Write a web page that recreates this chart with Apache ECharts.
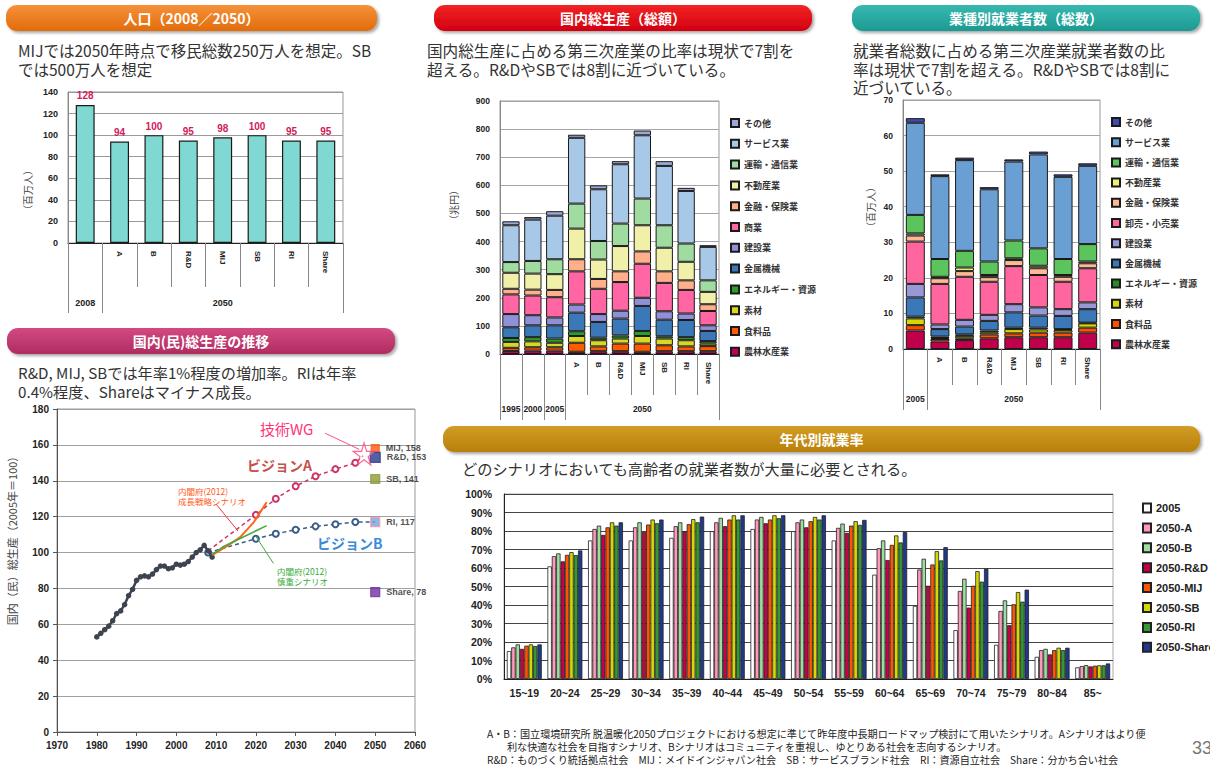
<!DOCTYPE html>
<html><head><meta charset="utf-8">
<script src="https://cdn.jsdelivr.net/npm/echarts@6/dist/echarts.min.js"></script>
<style>html,body{margin:0;padding:0;background:#fff}#c{width:1210px;height:771px}</style>
</head><body><div id="c"></div>
<script>
// ---------- DATA ----------
// 人口
const popCategories = ['', 'A', 'B', 'R&D', 'MIJ', 'SB', 'RI', 'Share'];
const popGroupLabels = ['2008', '', '', '', '2050', '', '', ''];
const popValues = [128, 94, 100, 95, 98, 100, 95, 95];

// 国内総生産（総額） 兆円
const gdpCategories = ['', '', '', 'A', 'B', 'R&D', 'MIJ', 'SB', 'RI', 'Share'];
const gdpGroupLabels = ['1995', '2000', '2005', '', '', '', '2050', '', '', ''];
const gdpSectorNames = ['農林水産業', '食料品', '素材', 'エネルギー・資源', '金属機械', '建設業', '商業', '金融・保険業', '不動産業', '運輸・通信業', 'サービス業', 'その他'];
const gdpAgriculture  = [11, 12, 12, 8, 10, 10, 8, 10, 10, 10];
const gdpFood         = [11, 12, 12, 32, 17, 27, 29, 21, 17, 18];
const gdpMaterials    = [21, 21, 16, 24, 22, 18, 27, 24, 22, 9];
const gdpEnergy       = [14, 15, 15, 17, 9, 11, 18, 8, 11, 9];
const gdpMachinery    = [38, 42, 47, 66, 56, 60, 89, 59, 61, 36];
const gdpConstruction = [47, 36, 28, 29, 28, 28, 29, 30, 23, 20];
const gdpCommerce     = [70, 70, 72, 118, 90, 102, 121, 101, 84, 51];
const gdpFinance      = [20, 21, 26, 43, 35, 38, 44, 41, 34, 24];
const gdpRealEstate   = [57, 57, 56, 109, 69, 90, 93, 84, 66, 44];
const gdpTransport    = [38, 45, 53, 89, 66, 80, 95, 80, 65, 41];
const gdpServices     = [131, 147, 155, 234, 184, 211, 225, 211, 187, 119];
const gdpOther        = [14, 9, 16, 11, 14, 11, 17, 17, 11, 6];

// 業種別就業者数（総数） 百万人
const empCategories = ['', 'A', 'B', 'R&D', 'MIJ', 'SB', 'RI', 'Share'];
const empGroupLabels = ['2005', '', '', '', '2050', '', '', ''];
const empSectorNames = ['農林水産業', '食料品', '素材', 'エネルギー・資源', '金属機械', '建設業', '卸売・小売業', '金融・保険業', '不動産業', '運輸・通信業', 'サービス業', 'その他'];
const empAgriculture  = [5.2, 2.1, 2.5, 3.0, 3.3, 3.3, 3.3, 4.6];
const empFood         = [1.5, 0.7, 0.5, 1.1, 1.1, 1.3, 1.3, 1.4];
const empMaterials    = [1.9, 0.3, 0.7, 0.6, 1.2, 0.9, 0.7, 1.2];
const empEnergy       = [0.5, 0.4, 0.4, 0.5, 0.4, 0.5, 0.3, 0.2];
const empMachinery    = [5.4, 2.1, 2.2, 2.7, 4.3, 3.4, 3.7, 3.8];
const empConstruction = [3.8, 1.3, 1.9, 1.7, 2.3, 2.3, 1.9, 1.9];
const empTrade        = [11.9, 11.4, 12.1, 9.3, 10.7, 9.1, 7.7, 9.6];
const empFinance      = [1.7, 1.6, 1.6, 1.3, 1.7, 1.9, 1.4, 1.4];
const empRealEstate   = [0.6, 0.4, 1.0, 0.6, 0.5, 0.7, 0.5, 0.5];
const empTransport    = [5.2, 5.0, 4.7, 3.8, 5.0, 4.9, 4.5, 4.9];
const empServices     = [25.9, 23.3, 25.5, 20.3, 22.2, 26.4, 23.1, 22.0];
const empOther        = [1.3, 0.5, 0.7, 0.6, 0.6, 0.8, 0.7, 0.7];

// 国内(民)総生産の推移（2005年＝100）
const histYears  = [1980,1981,1982,1983,1984,1985,1986,1987,1988,1989,1990,1991,1992,1993,1994,1995,1996,1997,1998,1999,2000,2001,2002,2003,2004,2005,2006,2007,2008,2009];
const histValues = [53,55,57,59,62,66,67.5,71,76,79.5,84.5,86.5,87,86.5,88,90.5,92.5,92.5,91,91.5,93.5,93,93.5,95,97.5,100,101.5,104,101,97.5];
const visionAYears  = [2008, 2020, 2025, 2030, 2035, 2040, 2045, 2047];
const visionAValues = [101, 121, 130, 137, 142.5, 146.5, 150, 154];
const visionBYears  = [2008, 2020, 2025, 2030, 2035, 2040, 2045, 2050];
const visionBValues = [100, 107.7, 110.5, 112.7, 114.6, 115.8, 117, 117];
const cabinetGrowthYears  = [2009, 2013, 2016, 2019.5, 2022.7];
const cabinetGrowthValues = [98.5, 104, 108.5, 117, 128];
const cabinetCautiousYears  = [2009, 2012, 2022.7];
const cabinetCautiousValues = [99, 103.5, 115];
const scenario2050Names  = ['MIJ', 'R&D', 'SB', 'RI', 'Share'];
const scenario2050Values = [158, 153, 141, 117, 78];
const techWGPoint = [2047.2, 155];

// 年代別就業率 (%)
const ageGroups = ['15~19','20~24','25~29','30~34','35~39','40~44','45~49','50~54','55~59','60~64','65~69','70~74','75~79','80~84','85~'];
const ageSeriesNames = ['2005', '2050-A', '2050-B', '2050-R&D', '2050-MIJ', '2050-SB', '2050-RI', '2050-Share'];
const age2005      = [15.1,60.9,74.9,74.9,76.3,79.9,81.1,79.9,74.9,56.4,39.5,26.4,18.5,12,6.3];
const age2050A     = [17.1,66.4,81.1,82,82.6,84.7,86.2,84.7,81.7,70.7,59.2,47.6,36.8,15.6,7];
const age2050B     = [18.7,67.9,82.9,84.7,84.7,87.1,87.6,86.2,84,74.9,65,54.2,42.5,16.3,7.5];
const age2050RD    = [16.3,63.6,77.9,79.4,79.8,82.6,84.2,82,79,64.3,50.4,38.6,29.1,13.3,6.8];
const age2050MIJ   = [18,67.1,82,83.5,83.7,86.2,86.2,85.3,82.9,72.5,61.9,50.4,40.4,15.6,7.2];
const age2050SB    = [18.7,68.6,84.7,86.2,86.4,88.5,88.5,87.6,85.3,77.6,69.1,58.3,47,16.9,7.4];
const age2050RI    = [17.8,67,82.9,84.2,84.7,86.2,86.9,86.2,83.3,73.8,64.1,52.6,41.8,15.6,7.4];
const age2050Share = [18.7,69.5,84.7,86.2,87.8,88.5,88.5,88.5,86,79.4,71.3,59.6,48.3,16.9,8.4];

// ---------- STYLE ----------
const FONT = "'Liberation Sans', Arial, 'Noto Sans CJK JP', sans-serif";
const JP = "'Noto Sans CJK JP', sans-serif";
const gdpColors = ['#c0005a','#ff5a00','#d8d820','#2c9c2c','#3a78b8','#9090d8','#ff66a3','#ffb08a','#f0f0a8','#a0dca0','#a8c8e8','#9ca8d8'];
const empColors = ['#c0004a','#ff5000','#d8d800','#2a8a2a','#3a78b8','#9898d8','#ff66a0','#ffb894','#f0f070','#5cc45c','#6a9fd4','#3c4cb0'];
const ageColors = ['#ffffff','#ff99bb','#a0dca0','#c8004a','#ff5500','#d8d800','#339933','#1f3a8a'];
const scenarioColors = ['#ff5a10','#2b3990','#8c9a3a','#6fa8dc','#7030a0'];
const scenarioBorders = ['#ff5a10','#2b3990','#8c9a3a','#ff8fb0','#7030a0'];
const scenarioSizes = [8, 10, 9, 9, 9];

const chart = echarts.init(document.getElementById('c'), null, {renderer: 'svg'});

const gdpData = [gdpAgriculture, gdpFood, gdpMaterials, gdpEnergy, gdpMachinery, gdpConstruction, gdpCommerce, gdpFinance, gdpRealEstate, gdpTransport, gdpServices, gdpOther];
const empData = [empAgriculture, empFood, empMaterials, empEnergy, empMachinery, empConstruction, empTrade, empFinance, empRealEstate, empTransport, empServices, empOther];
const ageData = [age2005, age2050A, age2050B, age2050RD, age2050MIJ, age2050SB, age2050RI, age2050Share];

const zip = (xs, ys) => xs.map((x, i) => [x, ys[i]]);

function header(x, y, w, h, c1, c2, text) {
  return [
    {type: 'rect', z: 100, shape: {x, y, width: w, height: h, r: 11},
     style: {fill: new echarts.graphic.LinearGradient(0, 0, 0, 1, [{offset: 0, color: c1}, {offset: 1, color: c2}]),
             shadowBlur: 3, shadowOffsetX: 2, shadowOffsetY: 2, shadowColor: 'rgba(0,0,0,0.35)'}},
    {type: 'text', z: 101, x: x + w / 2, y: y + h / 2,
     style: {text, fill: '#fff', fontSize: 14, fontWeight: 'bold', fontFamily: JP,
             textAlign: 'center', textVerticalAlign: 'middle', align: 'center', verticalAlign: 'middle'}}
  ];
}
function txt(x, y, text, st, extra) {
  return Object.assign({type: 'text', z: 101, x, y,
    style: Object.assign({text, fill: '#333', fontSize: 15, fontFamily: JP, lineHeight: 16,
      textAlign: 'left', textVerticalAlign: 'middle', align: 'left', verticalAlign: 'middle'}, st || {})}, extra || {});
}
// description lines: x, first line centre y, spacing, lines
function lines(x, y0, dy, arr, size) {
  return arr.map((s, i) => txt(x, y0 + i * dy, s, {fontSize: size, lineHeight: size + 1}));
}
function vname(x, y, text, size) {
  return txt(x, y, text, {fontSize: size, fill: '#444', textAlign: 'center', align: 'center', lineHeight: size + 1},
    {rotation: Math.PI / 2});
}

const axisLbl = (size) => ({fontSize: size, fontWeight: 'bold', color: '#222', fontFamily: FONT});

const series = [];
// Population
series.push({type: 'bar', name: '人口', xAxisIndex: 0, yAxisIndex: 0, data: popValues, barWidth: '55%',
  itemStyle: {color: '#7fd8d2', borderColor: '#1a1a1a', borderWidth: 1.2},
  label: {show: true, position: 'top', distance: 4, color: '#d0205a', fontSize: 10, fontWeight: 'bold', fontFamily: FONT}});
// GDP
gdpSectorNames.forEach((n, i) => series.push({type: 'bar', name: n, stack: 'gdp', xAxisIndex: 2, yAxisIndex: 1,
  data: gdpData[i], barWidth: '79%', itemStyle: {color: gdpColors[i], borderColor: '#1a1a1a', borderWidth: 1}}));
// Employment
empSectorNames.forEach((n, i) => series.push({type: 'bar', name: 'e:' + n, stack: 'emp', xAxisIndex: 4, yAxisIndex: 2,
  data: empData[i], barWidth: '77%', itemStyle: {color: empColors[i], borderColor: '#1a1a1a', borderWidth: 1}}));
// Line chart
series.push({type: 'line', name: '実績', xAxisIndex: 6, yAxisIndex: 3, data: zip(histYears, histValues),
  symbol: 'circle', symbolSize: 5.5, lineStyle: {color: '#3d4450', width: 2.5}, itemStyle: {color: '#3d4450'}, z: 5});
series.push({type: 'line', name: 'ビジョンA', xAxisIndex: 6, yAxisIndex: 3,
  data: zip(visionAYears, visionAValues).map((p, i, a) => (i === 0 || i === a.length - 1) ? {value: p, symbol: 'none'} : p),
  symbol: 'emptyCircle', symbolSize: 6, lineStyle: {color: '#cc3366', width: 1.5, type: [4, 3]}, itemStyle: {color: '#cc3366'}, z: 4});
series.push({type: 'line', name: 'ビジョンB', xAxisIndex: 6, yAxisIndex: 3,
  data: zip(visionBYears, visionBValues).map((p, i, a) => (i === a.length - 1) ? {value: p, symbol: 'none'} : p),
  symbol: 'emptyCircle', symbolSize: 6, lineStyle: {color: '#3c5c88', width: 1.5, type: [4, 3]}, itemStyle: {color: '#3c5c88'}, z: 4});
series.push({type: 'line', name: '成長戦略シナリオ', xAxisIndex: 6, yAxisIndex: 3, data: zip(cabinetGrowthYears, cabinetGrowthValues),
  symbol: 'none', lineStyle: {color: '#ff6418', width: 2}, z: 6});
series.push({type: 'line', name: '慎重シナリオ', xAxisIndex: 6, yAxisIndex: 3, data: zip(cabinetCautiousYears, cabinetCautiousValues),
  symbol: 'none', lineStyle: {color: '#44aa44', width: 1.6}, z: 6});
series.push({type: 'scatter', name: '2050', xAxisIndex: 6, yAxisIndex: 3,
  data: scenario2050Names.map((n, i) => ({name: n, value: [2050, scenario2050Values[i]], symbolSize: scenarioSizes[i],
    itemStyle: {color: scenarioColors[i], borderColor: scenarioBorders[i], borderWidth: 1.2}})),
  symbol: 'rect',
  label: {show: true, position: 'right', distance: 6, formatter: p => p.name + ', ' + p.value[1],
    fontSize: 9, fontWeight: 'bold', color: '#222', fontFamily: FONT}, z: 7});
series.push({type: 'scatter', name: '技術WG', xAxisIndex: 6, yAxisIndex: 3, data: [techWGPoint],
  symbol: 'path://M50,0 L61,35 L98,35 L68,57 L79,91 L50,70 L21,91 L32,57 L2,35 L39,35 Z', symbolSize: 22,
  itemStyle: {color: 'rgba(255,255,255,0.5)', borderColor: '#ff4070', borderWidth: 1.2}, z: 8,
  markLine: {silent: true, symbol: ['none', 'none'], label: {show: false}, animation: false,
    data: [
      [{coord: [2037.4, 166.5], lineStyle: {color: '#ff5080', width: 1, type: 'solid'}}, {coord: [2046, 157.5]}],
      [{coord: [2010, 127], lineStyle: {color: '#e83a3a', width: 1, type: 'solid'}}, {coord: [2015.5, 112]}],
      [{coord: [2020, 109], lineStyle: {color: '#3aaa3a', width: 1, type: 'solid'}}, {coord: [2024.4, 94]}]
    ]}});
// Age employment
ageSeriesNames.forEach((n, i) => series.push({type: 'bar', name: n, xAxisIndex: 7, yAxisIndex: 4, data: ageData[i],
  barGap: '0%', barCategoryGap: '14%', itemStyle: {color: ageColors[i], borderColor: '#222', borderWidth: 0.8}}));

const option = {
  animation: false,
  backgroundColor: '#fff',
  textStyle: {fontFamily: FONT},
  grid: [
    {left: 68, top: 92, width: 275, height: 151, show: true, borderColor: '#999', borderWidth: 1},
    {left: 500, top: 101, width: 219, height: 253, show: true, borderColor: '#999', borderWidth: 1},
    {left: 903, top: 100, width: 197, height: 249, show: true, borderColor: '#999', borderWidth: 1},
    {left: 57, top: 409, width: 358, height: 323, show: true, borderColor: '#999', borderWidth: 1},
    {left: 504, top: 494, width: 609, height: 185, show: true, borderColor: '#aaa', borderWidth: 1}
  ],
  xAxis: [
    {type: 'category', gridIndex: 0, position: 'bottom', data: popCategories, axisLine: {lineStyle: {color: '#222'}},
     axisTick: {show: true, interval: 0, length: 44, lineStyle: {color: '#888'}},
     axisLabel: Object.assign({interval: 0, rotate: -90, margin: 8}, axisLbl(8))},
    {type: 'category', gridIndex: 0, position: 'bottom', data: popGroupLabels, offset: 44, axisLine: {show: false},
     axisTick: {show: true, length: 26, interval: (i) => i <= 1, lineStyle: {color: '#888'}},
     axisLabel: Object.assign({interval: 0, margin: 11}, axisLbl(9))},
    {type: 'category', gridIndex: 1, position: 'bottom', data: gdpCategories, axisLine: {lineStyle: {color: '#222'}},
     axisTick: {show: true, interval: 0, length: 41, lineStyle: {color: '#888'}},
     axisLabel: Object.assign({interval: 0, rotate: -90, margin: 8}, axisLbl(8))},
    {type: 'category', gridIndex: 1, position: 'bottom', data: gdpGroupLabels, offset: 41, axisLine: {show: false},
     axisTick: {show: true, length: 25, interval: (i) => i <= 3, lineStyle: {color: '#888'}},
     axisLabel: Object.assign({interval: 0, margin: 10}, axisLbl(8.5))},
    {type: 'category', gridIndex: 2, position: 'bottom', data: empCategories, axisLine: {lineStyle: {color: '#222'}},
     axisTick: {show: true, interval: 0, length: 36, lineStyle: {color: '#888'}},
     axisLabel: Object.assign({interval: 0, rotate: -90, margin: 8}, axisLbl(8))},
    {type: 'category', gridIndex: 2, position: 'bottom', data: empGroupLabels, offset: 36, axisLine: {show: false},
     axisTick: {show: true, length: 25, interval: (i) => i <= 1, lineStyle: {color: '#888'}},
     axisLabel: Object.assign({interval: 0, margin: 10}, axisLbl(8.5))},
    {type: 'value', gridIndex: 3, position: 'bottom', min: 1970, max: 2060, interval: 10, splitLine: {show: false},
     axisLine: {show: true, lineStyle: {color: '#555'}}, axisTick: {show: true, length: 4, lineStyle: {color: '#555'}},
     axisLabel: Object.assign({margin: 8, formatter: (v) => String(v)}, axisLbl(10))},
    {type: 'category', gridIndex: 4, position: 'bottom', data: ageGroups, axisLine: {lineStyle: {color: '#222'}}, axisTick: {show: false},
     axisLabel: Object.assign({interval: 0, margin: 9}, axisLbl(10.5))}
  ],
  yAxis: [
    {type: 'value', gridIndex: 0, position: 'left', min: 0, max: 140, interval: 20, axisLine: {show: true, lineStyle: {color: '#888'}},
     splitLine: {lineStyle: {color: '#9a9a9a'}}, axisLabel: Object.assign({margin: 10}, axisLbl(9))},
    {type: 'value', gridIndex: 1, position: 'left', min: 0, max: 900, interval: 100, axisLine: {show: true, lineStyle: {color: '#888'}},
     splitLine: {lineStyle: {color: '#a5a5a5'}}, axisLabel: Object.assign({margin: 10}, axisLbl(8.5))},
    {type: 'value', gridIndex: 2, position: 'left', min: 0, max: 70, interval: 10, axisLine: {show: true, lineStyle: {color: '#888'}},
     splitLine: {lineStyle: {color: '#a5a5a5'}}, axisLabel: Object.assign({margin: 10}, axisLbl(8.5))},
    {type: 'value', gridIndex: 3, position: 'left', min: 0, max: 180, interval: 20, axisLine: {show: true, lineStyle: {color: '#555'}},
     axisTick: {show: true, length: 4, lineStyle: {color: '#555'}},
     splitLine: {lineStyle: {color: '#a0a0a0'}}, axisLabel: Object.assign({margin: 8}, axisLbl(10))},
    {type: 'value', gridIndex: 4, position: 'left', min: 0, max: 100, interval: 10, axisLine: {show: true, lineStyle: {color: '#222'}},
     splitLine: {lineStyle: {color: '#444'}}, axisLabel: Object.assign({margin: 12, formatter: '{value}%'}, axisLbl(10.5))}
  ],
  legend: [
    {left: 725, top: 113, orient: 'vertical', selectedMode: false, itemWidth: 8, itemHeight: 8, itemGap: 10.8,
     data: gdpSectorNames.slice().reverse(), icon: 'rect',
     textStyle: {fontSize: 9, fontWeight: 'bold', color: '#333', lineHeight: 10, fontFamily: JP}},
    {left: 1106, top: 112, orient: 'vertical', selectedMode: false, itemWidth: 8, itemHeight: 8, itemGap: 10.2,
     data: empSectorNames.slice().reverse().map(n => 'e:' + n), icon: 'rect', formatter: (n) => n.slice(2),
     textStyle: {fontSize: 9, fontWeight: 'bold', color: '#333', lineHeight: 10, fontFamily: JP}},
    {left: 1137, top: 497, orient: 'vertical', selectedMode: false, itemWidth: 8, itemHeight: 9, itemGap: 7.9,
     data: ageSeriesNames, icon: 'rect',
     textStyle: {fontSize: 11, fontWeight: 'bold', color: '#222', lineHeight: 12, fontFamily: FONT}}
  ],
  series: series,
  graphic: [].concat(
    header(6, 5, 371, 26, '#f6913a', '#e26c0a', '人口（2008／2050）'),
    header(434, 5, 378, 26, '#f22424', '#d20010', '国内総生産（総額）'),
    header(852, 5, 348, 26, '#38b8b0', '#1c9a92', '業種別就業者数（総数）'),
    header(7, 328, 388, 26, '#d24a80', '#b02c60', '国内(民)総生産の推移'),
    header(443, 426, 757, 26, '#d39c24', '#b8800a', '年代別就業率'),
    lines(18, 50, 19, ['MIJでは2050年時点で移民総数250万人を想定。SB', 'では500万人を想定'], 15.5),
    lines(427, 50, 18.5, ['国内総生産に占める第三次産業の比率は現状で7割を', '超える。R&DやSBでは8割に近づいている。'], 15.6),
    lines(853, 50, 18.5, ['就業者総数に占める第三次産業就業者数の比', '率は現状で7割を超える。R&DやSBでは8割に', '近づいている。'], 15.6),
    lines(18, 372, 18.5, ['R&D, MIJ, SBでは年率1%程度の増加率。RIは年率', '0.4%程度、Shareはマイナス成長。'], 15.2),
    lines(462, 468, 18.5, ['どのシナリオにおいても高齢者の就業者数が大量に必要とされる。'], 15.2),
    [
      vname(27, 190, '（百万人）', 10),
      vname(453, 205, '（兆円）', 10),
      vname(870, 207, '（百万人）', 10),
      vname(12, 538, '国内（民）総生産（2005年＝100）', 11),
      txt(260, 428, '技術WG', {fontSize: 15, fill: '#ff3377', lineHeight: 16}),
      txt(247, 465, 'ビジョンA', {fontSize: 14, fontWeight: 'bold', fill: '#c8504c', lineHeight: 15}),
      txt(317, 543, 'ビジョンB', {fontSize: 14, fontWeight: 'bold', fill: '#3a8ad6', lineHeight: 15}),
      txt(178, 490.5, '内閣府(2012)', {fontSize: 8.5, fill: '#ff5a1a', lineHeight: 9.5}),
      txt(178, 501, '成長戦略シナリオ', {fontSize: 8.5, fill: '#ff5a1a', lineHeight: 9.5}),
      txt(277, 570.5, '内閣府(2012)', {fontSize: 8.5, fill: '#3aaa3a', lineHeight: 9.5}),
      txt(277, 581, '慎重シナリオ', {fontSize: 8.5, fill: '#3aaa3a', lineHeight: 9.5}),
      txt(487, 733.5, 'A・B：国立環境研究所 脱温暖化2050プロジェクトにおける想定に準じて昨年度中長期ロードマップ検討にて用いたシナリオ。Aシナリオはより便', {fontSize: 10.1, fill: '#222', lineHeight: 11.5}),
      txt(507, 746.5, '利な快適な社会を目指すシナリオ、Bシナリオはコミュニティを重視し、ゆとりある社会を志向するシナリオ。', {fontSize: 10.1, fill: '#222', lineHeight: 11.5}),
      txt(487, 759.5, 'R&D：ものづくり統括拠点社会　MIJ：メイドインジャパン社会　SB：サービスブランド社会　RI：資源自立社会　Share：分かち合い社会', {fontSize: 10.1, fill: '#222', lineHeight: 11.5}),
      txt(1192, 748, '33', {fontSize: 18, fill: '#777', fontFamily: FONT, lineHeight: 19})
    ]
  )
};
chart.setOption(option);
</script></body></html>
